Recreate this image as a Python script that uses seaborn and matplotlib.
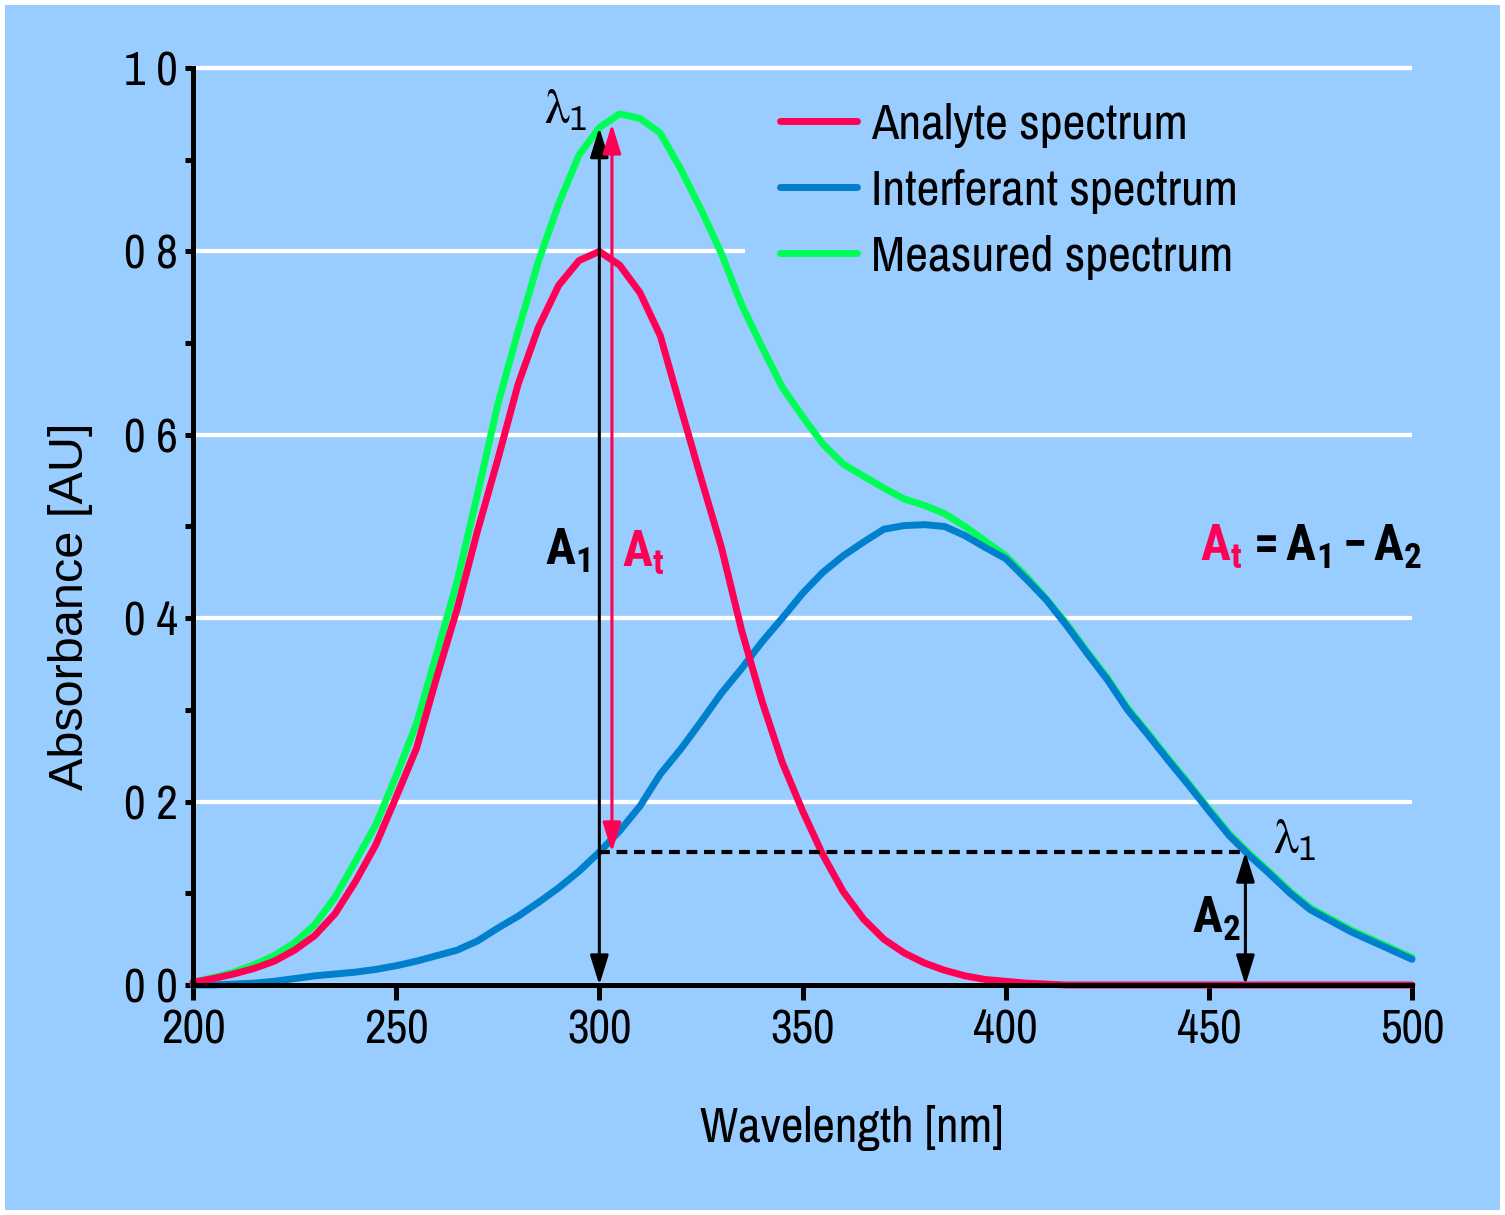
import matplotlib
matplotlib.use("Agg")
import matplotlib.pyplot as plt
from matplotlib import font_manager as fm
from matplotlib.lines import Line2D
from matplotlib.patches import Rectangle
from matplotlib.ticker import MultipleLocator, FixedLocator, FixedFormatter
import seaborn as sns
import pandas as pd

# ---------------- data ----------------
wavelength = [200, 205, 210, 215, 220, 225, 230, 235, 240, 245,
              250, 255, 260, 265, 270, 275, 280, 285, 290, 295,
              300, 305, 310, 315, 320, 325, 330, 335, 340, 345,
              350, 355, 360, 365, 370, 375, 380, 385, 390, 395,
              400, 405, 410, 415, 420, 425, 430, 435, 440, 445,
              450, 455, 460, 465, 470, 475, 480, 485, 490, 495, 500]

analyte = [0.003, 0.007, 0.012, 0.018, 0.026, 0.038, 0.054, 0.078, 0.113, 0.153,
           0.205, 0.258, 0.336, 0.410, 0.495, 0.573, 0.655, 0.717, 0.763, 0.790,
           0.800, 0.785, 0.755, 0.708, 0.630, 0.553, 0.478, 0.387, 0.310, 0.243,
           0.190, 0.142, 0.102, 0.072, 0.050, 0.035, 0.024, 0.016, 0.010, 0.006,
           0.004, 0.002, 0.001, 0.0, 0.0, 0.0, 0.0, 0.0, 0.0, 0.0,
           0.0, 0.0, 0.0, 0.0, 0.0, 0.0, 0.0, 0.0, 0.0, 0.0, 0.0]

interferant = [0.0, 0.0, 0.001, 0.002, 0.004, 0.007, 0.010, 0.012, 0.014, 0.017,
               0.021, 0.026, 0.032, 0.038, 0.048, 0.062, 0.075, 0.090, 0.106, 0.124,
               0.145, 0.168, 0.195, 0.230, 0.257, 0.287, 0.318, 0.345, 0.374, 0.400,
               0.427, 0.450, 0.468, 0.483, 0.497, 0.501, 0.502, 0.500, 0.490, 0.477,
               0.465, 0.443, 0.420, 0.392, 0.362, 0.333, 0.300, 0.273, 0.245, 0.218,
               0.190, 0.163, 0.141, 0.121, 0.100, 0.082, 0.070, 0.058, 0.048, 0.038, 0.028]

measured = [0.003, 0.008, 0.014, 0.022, 0.032, 0.046, 0.066, 0.096, 0.135, 0.175,
            0.228, 0.285, 0.362, 0.440, 0.535, 0.633, 0.713, 0.789, 0.852, 0.905,
            0.935, 0.950, 0.945, 0.929, 0.890, 0.846, 0.798, 0.742, 0.696, 0.652,
            0.620, 0.590, 0.568, 0.555, 0.542, 0.530, 0.523, 0.514, 0.500, 0.484,
            0.468, 0.446, 0.421, 0.394, 0.364, 0.335, 0.302, 0.275, 0.247, 0.220,
            0.192, 0.165, 0.143, 0.123, 0.102, 0.084, 0.072, 0.060, 0.050, 0.040, 0.030]

series_names = ["Analyte spectrum", "Interferant spectrum", "Measured spectrum"]
y_ticks = [0.0, 0.2, 0.4, 0.6, 0.8, 1.0]
y_tick_labels = ["0 0", "0 2", "0 4", "0 6", "0 8", "1 0"]
x_ticks = [200, 250, 300, 350, 400, 450, 500]

lambda_wl = 300       # analytical wavelength (black arrow)
lambda_wl2 = 459      # equivalent wavelength on interferant
A1_value = 0.935
A2_value = 0.145

# ---------------- style ----------------
BG = "#99CCFF"
RED = "#FF0055"
BLUE = "#0080CC"
GREEN = "#00FF55"


def _w(f):
    w = f.weight
    if isinstance(w, str):
        w = fm.weight_dict.get(w, 400)
    return w


def pick_family(cands, min_weight=0):
    for c in cands:
        for f in fm.fontManager.ttflist:
            if f.name == c and _w(f) >= min_weight and f.style == "normal":
                return c
    return "DejaVu Sans"


REG = pick_family(["Archivo Narrow", "PT Sans Narrow", "Roboto Condensed", "DejaVu Sans"])
BOLD = pick_family(["Archivo Narrow", "Roboto Condensed", "PT Sans Narrow",
                    "Barlow Condensed", "Fira Sans Condensed"], 700)

sns.set_style("ticks")
plt.rcParams["font.family"] = [REG, "DejaVu Sans"]
plt.rcParams["mathtext.fontset"] = "custom"
plt.rcParams["mathtext.rm"] = REG
plt.rcParams["mathtext.it"] = REG
plt.rcParams["mathtext.bf"] = BOLD + ":bold"
plt.rcParams["mathtext.fallback"] = "stix"
for k in ["text.color", "axes.labelcolor", "xtick.color", "ytick.color", "axes.edgecolor"]:
    plt.rcParams[k] = "black"

W, H = 1505, 1215
fig = plt.figure(figsize=(W / 100, H / 100), dpi=100)
fig.patch.set_facecolor(BG)
fig.patch.set_edgecolor("white")
fig.patch.set_linewidth(6)

ytop = 1.004
ax_left, ax_right = 193, 1412
ax_bottom_px = 985
ax_top_px = 985 - 917 * ytop
ax = fig.add_axes([ax_left / W, 1 - ax_bottom_px / H,
                   (ax_right - ax_left) / W, (ax_bottom_px - ax_top_px) / H])
ax.set_facecolor(BG)

df = pd.DataFrame({
    "Wavelength": wavelength * 3,
    "Absorbance": analyte + interferant + measured,
    "Series": [series_names[0]] * len(wavelength) + [series_names[1]] * len(wavelength)
              + [series_names[2]] * len(wavelength),
})

colors = {series_names[0]: RED, series_names[1]: BLUE, series_names[2]: GREEN}
for name in [series_names[2], series_names[1], series_names[0]]:
    sub = df[df["Series"] == name]
    sns.lineplot(data=sub, x="Wavelength", y="Absorbance", color=colors[name],
                 lw=5, ax=ax, estimator=None, sort=False, legend=False)
for ln in ax.lines:
    ln.set_clip_on(False)
    ln.set_solid_capstyle("round")
    ln.set_solid_joinstyle("round")
    ln.set_zorder(2)

ax.set_xlim(200, 500)
ax.set_ylim(0, ytop)

# ticks & grid
ax.yaxis.set_major_locator(FixedLocator(y_ticks))
ax.yaxis.set_major_formatter(FixedFormatter(y_tick_labels))
ax.yaxis.set_minor_locator(MultipleLocator(0.1))
ax.xaxis.set_major_locator(FixedLocator(x_ticks))
ax.grid(axis="y", which="major", color="white", lw=3.1)
ax.grid(axis="x", visible=False)
ax.set_axisbelow(True)

# background patch hiding the grid behind the legend
ax.add_patch(Rectangle(((745 - 193) / 1219, (985 - 290) / (917 * ytop)),
                       1 - (745 - 193) / 1219, (290 - 88) / (917 * ytop),
                       transform=ax.transAxes, facecolor=BG, edgecolor="none", zorder=1))

for s in ["top", "right"]:
    ax.spines[s].set_visible(False)
for s in ["left", "bottom"]:
    ax.spines[s].set_linewidth(3.6)
    ax.spines[s].set_color("black")
    ax.spines[s].set_zorder(2.5)
ax.spines["left"].set_bounds(0, 1.0)

ax.tick_params(axis="y", which="both", direction="out", length=6, width=3.6,
               labelsize=34, pad=5, colors="black")
ax.tick_params(axis="x", which="major", direction="out", length=11, width=3.6,
               labelsize=34, pad=6, colors="black")

ax.set_xlabel("Wavelength [nm]", fontsize=35.5, color="black")
ax.xaxis.set_label_coords(0.54, -0.130)
ax.set_ylabel("Absorbance [AU]", fontsize=35, color="black",
              family=["Liberation Sans", "DejaVu Sans"])
ax.yaxis.set_label_coords(-0.082, 0.411)


# arrows
def arrow(x, y0, y1, color, lw):
    ax.annotate("", xy=(x, y1), xytext=(x, y0),
                arrowprops=dict(arrowstyle="<|-|>,head_length=0.9,head_width=0.28",
                                color=color, lw=lw, shrinkA=0, shrinkB=0,
                                mutation_scale=20),
                annotation_clip=False, zorder=4)


arrow(lambda_wl, 0.0, A1_value, "black", 2.2)
arrow(303.1, A2_value, A1_value + 0.004, RED, 2.2)
arrow(lambda_wl2, 0.0, A2_value, "black", 2.2)
ax.plot([lambda_wl, lambda_wl2], [A2_value, A2_value], color="black", lw=3.0,
        dashes=(2.6, 1.6), zorder=3, solid_capstyle="butt")

# text annotations
LBL = 36
ax.text(286.5, 0.94, r"$\lambda_1$", fontsize=36, ha="left", va="baseline", zorder=5)
ax.text(465.8, 0.144, r"$\lambda_1$", fontsize=36, ha="left", va="baseline", zorder=5)
ax.text(286.6, 0.458, r"$\mathbf{A_1}$", fontsize=LBL, ha="left", va="baseline", zorder=5)
ax.text(305.6, 0.456, r"$\mathbf{A_t}$", fontsize=LBL, ha="left", va="baseline",
        color=RED, zorder=5)
ax.text(445.9, 0.057, r"$\mathbf{A_2}$", fontsize=LBL, ha="left", va="baseline", zorder=5)
ax.text(447.8, 0.463, r"$\mathbf{A_t}$", fontsize=LBL, ha="left", va="baseline",
        color=RED, zorder=5)
ax.text(459.3, 0.463, r"$\mathbf{=A_1-A_2}$", fontsize=LBL, ha="left",
        va="baseline", zorder=5)

# legend
handles = [Line2D([], [], color=RED, lw=5, solid_capstyle="round"),
           Line2D([], [], color=BLUE, lw=5, solid_capstyle="round"),
           Line2D([], [], color=GREEN, lw=5, solid_capstyle="round")]
leg = ax.legend(handles, series_names, loc="upper left",
                bbox_to_anchor=((780 - 193) / 1219, (985 - 103) / (917 * ytop)),
                frameon=False, fontsize=36, borderpad=0, borderaxespad=0,
                handlelength=1.54, handletextpad=0.28, labelspacing=0.42)
for t in leg.get_texts():
    t.set_color("black")

fig.savefig("out.png", dpi=100, facecolor=BG, edgecolor="white")
